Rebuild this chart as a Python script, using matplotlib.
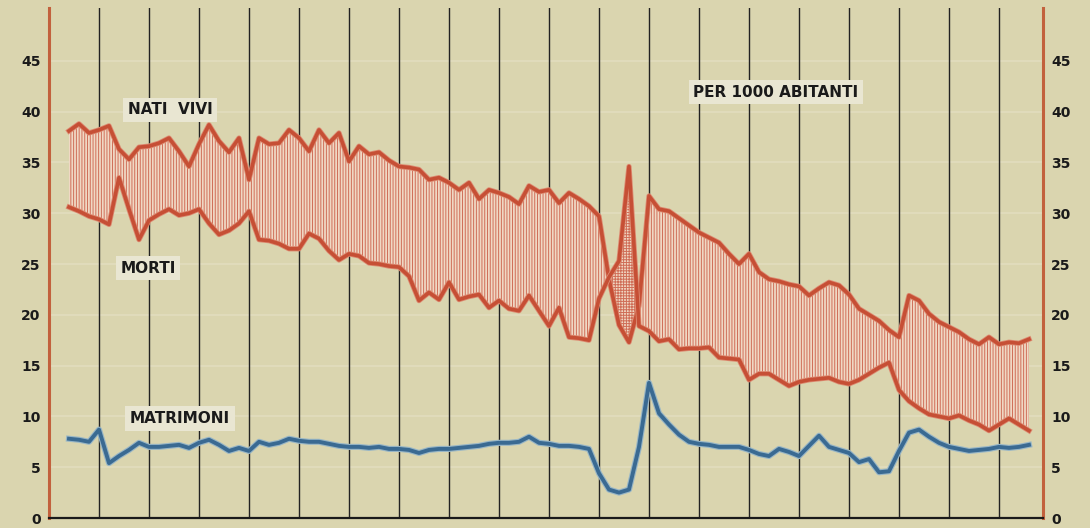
import matplotlib
matplotlib.use("Agg")
import matplotlib.pyplot as plt
import matplotlib.patheffects as pe
import numpy as np

# ----------------- data (per 1000 abitanti) -----------------
years = list(range(1862, 1959))

nati_vivi = [38.1, 38.8, 37.9, 38.2, 38.6, 36.3, 35.3, 36.5, 36.6, 36.9,
             37.4, 36.1, 34.6, 36.8, 38.7, 37.1, 36.0, 37.4, 33.3, 37.4,
             36.8, 36.9, 38.2, 37.4, 36.1, 38.2, 36.9, 37.9, 35.1, 36.6,
             35.8, 36.0, 35.2, 34.6, 34.5, 34.3, 33.3, 33.5, 33.0, 32.3,
             33.0, 31.4, 32.3, 32.0, 31.6, 30.9, 32.7, 32.1, 32.3, 31.0,
             32.0, 31.4, 30.7, 29.7, 23.5, 19.0, 17.3, 20.9, 31.7, 30.4,
             30.2, 29.5, 28.8, 28.1, 27.6, 27.1, 26.0, 25.0, 26.0, 24.2,
             23.5, 23.3, 23.0, 22.8, 21.9, 22.6, 23.2, 22.9, 22.0, 20.6,
             20.0, 19.4, 18.5, 17.8, 21.9, 21.4, 20.1, 19.3, 18.8, 18.3,
             17.6, 17.1, 17.8, 17.1, 17.3, 17.2, 17.6]

morti = [30.6, 30.2, 29.7, 29.4, 28.9, 33.5, 30.4, 27.4, 29.3, 29.9,
         30.4, 29.8, 30.0, 30.4, 29.0, 27.9, 28.3, 29.0, 30.2, 27.4,
         27.3, 27.0, 26.5, 26.5, 28.0, 27.5, 26.3, 25.4, 26.0, 25.8,
         25.1, 25.0, 24.8, 24.7, 23.8, 21.4, 22.2, 21.5, 23.2, 21.5,
         21.8, 22.0, 20.7, 21.4, 20.6, 20.4, 21.9, 20.4, 18.9, 20.7,
         17.8, 17.7, 17.5, 21.6, 23.7, 25.3, 34.6, 18.9, 18.4, 17.4,
         17.6, 16.6, 16.7, 16.7, 16.8, 15.8, 15.7, 15.6, 13.6, 14.2,
         14.2, 13.6, 13.0, 13.4, 13.6, 13.7, 13.8, 13.4, 13.2, 13.6,
         14.2, 14.8, 15.3, 12.6, 11.5, 10.8, 10.2, 10.0, 9.8, 10.1,
         9.6, 9.2, 8.6, 9.2, 9.8, 9.2, 8.6]

matrimoni = [7.8, 7.7, 7.5, 8.7, 5.4, 6.1, 6.7, 7.4, 7.0, 7.0,
             7.1, 7.2, 6.9, 7.4, 7.7, 7.2, 6.6, 6.9, 6.6, 7.5,
             7.2, 7.4, 7.8, 7.6, 7.5, 7.5, 7.3, 7.1, 7.0, 7.0,
             6.9, 7.0, 6.8, 6.8, 6.7, 6.4, 6.7, 6.8, 6.8, 6.9,
             7.0, 7.1, 7.3, 7.4, 7.4, 7.5, 8.0, 7.4, 7.3, 7.1,
             7.1, 7.0, 6.8, 4.4, 2.8, 2.5, 2.8, 7.0, 13.3, 10.3,
             9.2, 8.2, 7.5, 7.3, 7.2, 7.0, 7.0, 7.0, 6.7, 6.3,
             6.1, 6.8, 6.5, 6.1, 7.1, 8.1, 7.0, 6.7, 6.4, 5.5,
             5.8, 4.5, 4.6, 6.6, 8.4, 8.7, 8.0, 7.4, 7.0, 6.8,
             6.6, 6.7, 6.8, 7.0, 6.9, 7.0, 7.2]

y_ticks = list(range(0, 50, 5))
grid_years = list(range(1865, 1956, 5))

# ----------------- colours -----------------
BG = "#dad5af"
RED = "#c64f35"
HATCH = "#d06e58"
FILL = "#f0d8c4"
BLUE = "#3a6a92"
LABEL_BG = "#e9e6d2"

plt.rcParams["hatch.linewidth"] = 0.7

x = np.array(years, dtype=float)
b = np.array(nati_vivi)
d = np.array(morti)
m = np.array(matrimoni)

fig = plt.figure(figsize=(10.9, 5.28), dpi=100, facecolor=BG)
ax = fig.add_axes([49 / 1090, 10 / 528, (1043 - 49) / 1090, (518 - 8) / 528])
ax.set_facecolor(BG)
ax.set_xlim(1860, 1959.4)
ax.set_ylim(0, 50.2)

# faint light horizontal bands
for v in y_ticks[1:]:
    ax.axhline(v, color="#e1dcbc", lw=1.4, zorder=0.5)

# vertical black grid every 5 years
for g in grid_years:
    ax.axvline(g, color="#222222", lw=1.0, zorder=1)

# area between births and deaths
ax.fill_between(x, d, b, where=b >= d, interpolate=True, facecolor=FILL,
                edgecolor=HATCH, hatch="||||||", linewidth=0, zorder=2)
ax.fill_between(x, b, d, where=d > b, interpolate=True, facecolor=FILL,
                edgecolor=HATCH, hatch="++++++", linewidth=0, zorder=2)

red_fx = [pe.Stroke(linewidth=3.8, foreground="#dd8b72"), pe.Normal()]
ax.plot(x, b, color=RED, lw=2.6, zorder=3, path_effects=red_fx)
ax.plot(x, d, color=RED, lw=2.6, zorder=3, path_effects=red_fx)
ax.plot(x, m, color=BLUE, lw=2.8, zorder=3,
        path_effects=[pe.Stroke(linewidth=4.4, foreground="#98b6c6"), pe.Normal()])

# labels
lab = dict(ha="center", va="center", fontsize=11, fontweight="bold",
           color="#1a1a1a", zorder=5,
           bbox=dict(boxstyle="square,pad=0.3", fc=LABEL_BG, ec="none"))
ax.text(1872.1, 40.2, "NATI  VIVI", **lab)
ax.text(1869.9, 24.6, "MORTI", **lab)
ax.text(1873.1, 9.8, "MATRIMONI", **lab)
ax.text(1932.7, 41.9, "PER 1000 ABITANTI", **lab)

# axes
for s in ["left", "right"]:
    ax.spines[s].set_color("#c2613d")
    ax.spines[s].set_linewidth(2.2)
ax.spines["bottom"].set_color("#1a1a1a")
ax.spines["bottom"].set_linewidth(1.6)
ax.spines["top"].set_visible(False)

ax.set_xticks([])
ax.set_yticks(y_ticks)
ax.set_yticklabels([str(t) for t in y_ticks])
ax.tick_params(axis="y", length=0, labelsize=10, labelcolor="#1a1a1a",
               labelleft=True, labelright=True, pad=6)
for t in ax.get_yticklabels():
    t.set_fontweight("bold")

fig.savefig("out.png", dpi=100, facecolor=BG)
